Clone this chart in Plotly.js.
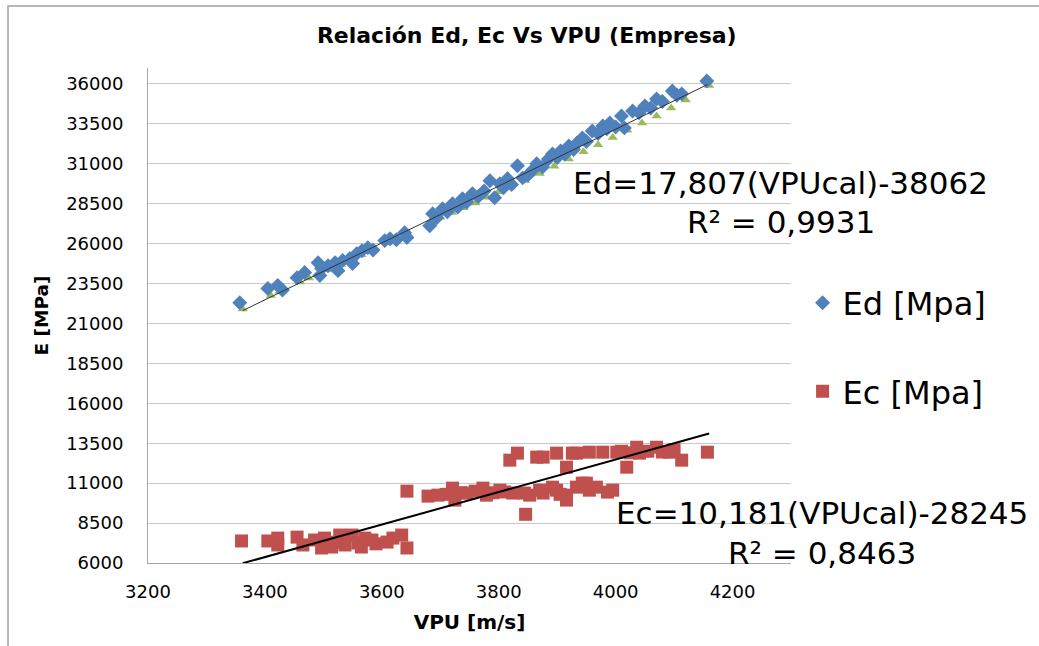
<!DOCTYPE html>
<html>
<head>
<meta charset="utf-8">
<script src="https://cdn.plot.ly/plotly-3.0.1.min.js"></script>
<style>html,body{margin:0;padding:0;background:#fff;}#chart{width:1039px;height:646px;}</style>
</head>
<body>
<div id="chart"></div>
<script>
// ---- Data ----
const edX = [3357,3405,3422,3430,3455,3468,3491,3494,3497,3508,3520,3525,3533,3545,3550,3557,3566,3576,3585,3605,3614,3625,3639,3643,3682,3687,3694,3704,3712,3721,3730,3738,3745,3755,3765,3775,3785,3793,3802,3808,3815,3822,3832,3841,3850,3858,3865,3875,3885,3892,3900,3906,3913,3920,3928,3934,3943,3950,3960,3970,3978,3985,3990,4000,4010,4015,4029,4040,4050,4060,4070,4080,4097,4105,4113,4156];
const edY = [22300,23190,23380,23100,23870,24190,24810,24000,24440,24620,24810,24310,24940,25060,24750,25370,25560,25750,25600,26190,26310,26250,26690,26380,27120,27870,27620,28190,28000,28500,28300,28810,28600,29120,28950,29300,29940,28880,29750,29500,30060,29700,30880,30120,30300,30600,31000,30800,31300,31620,31400,31810,31600,32120,31900,32310,32620,32400,33060,32900,33370,33200,33560,33300,34000,33250,34310,34200,34620,34500,35060,34900,35560,35300,35380,36190];

const calX = [3362,3410,3425,3460,3475,3495,3510,3530,3550,3565,3580,3610,3645,3685,3700,3720,3740,3760,3780,3800,3820,3845,3870,3895,3920,3945,3970,3995,4020,4045,4070,4095,4120,4160];
const calY = [21900,22750,23000,23600,23850,24150,24380,24700,25050,25300,25550,26050,26550,27400,27650,27950,28250,28550,28900,29250,29550,29950,30400,30850,31300,31750,32200,32650,33100,33550,34000,34500,35000,35900];

const ecX = [3360,3405,3422,3422,3455,3465,3485,3497,3502,3514,3520,3528,3537,3549,3559,3565,3571,3583,3590,3609,3619,3634,3643,3643,3679,3696,3710,3721,3725,3735,3745,3760,3773,3779,3790,3802,3810,3819,3824,3832,3846,3844,3853,3865,3870,3876,3876,3892,3899,3899,3905,3916,3916,3916,3926,3933,3933,3943,3950,3955,3955,3967,3978,3986,3995,4002,4010,4019,4025,4036,4041,4055,4070,4080,4092,4100,4113,4157];
const ecY = [7380,7380,7560,7130,7620,7130,7440,6940,7560,7000,7300,7750,7130,7750,7250,7000,7560,7440,7200,7310,7560,7750,6940,10500,10190,10250,10300,10690,9940,10400,10380,10500,10690,10250,10400,10560,10450,12440,10380,12880,9050,10380,10250,12630,10560,12630,10380,10750,12880,10560,10300,12000,10250,9940,12880,12880,10750,11000,11000,12940,10560,10750,12940,10440,10560,12940,13000,12000,12900,13250,12880,13000,13250,12950,12940,13100,12440,12940];

const edTrendX = [3362, 4157];
const edTrendY = [21805, 35962];
const ecTrendX = [3362, 4160];
const ecTrendY = [5985, 14108];

const xTicks = [3200,3400,3600,3800,4000,4200];
const yTicks = [6000,8500,11000,13500,16000,18500,21000,23500,26000,28500,31000,33500,36000];

const titleText = 'Relación Ed, Ec Vs VPU (Empresa)';
const edName = 'Ed [Mpa]';
const ecName = 'Ec [Mpa]';
const edEq = 'Ed=17,807(VPUcal)-38062';
const edR2 = 'R² = 0,9931';
const ecEq = 'Ec=10,181(VPUcal)-28245';
const ecR2 = 'R² = 0,8463';

const FONT = 'DejaVu Sans, sans-serif';

const traces = [
  {x: calX, y: calY, type: 'scatter', mode: 'markers', showlegend: false, hoverinfo: 'skip',
   marker: {symbol: 'triangle-up', size: 9, color: '#9BBB59'}},
  {x: edX, y: edY, type: 'scatter', mode: 'markers', name: edName, legendgroup: 'a',
   marker: {symbol: 'diamond', size: 11.5, color: '#4F81BD'}},
  {x: edTrendX, y: edTrendY, type: 'scatter', mode: 'lines', showlegend: false,
   line: {color: '#333333', width: 1}},
  {x: ecX, y: ecY, type: 'scatter', mode: 'markers', name: ecName, legendgroup: 'b',
   marker: {symbol: 'square', size: 13, color: '#C0504D'}},
  {x: ecTrendX, y: ecTrendY, type: 'scatter', mode: 'lines', showlegend: false,
   line: {color: '#000000', width: 2}}
];

const layout = {
  width: 1039, height: 646,
  margin: {l: 148, r: 248, t: 68, b: 83},
  paper_bgcolor: '#ffffff', plot_bgcolor: '#ffffff',
  font: {family: FONT, color: '#000'},
  title: {text: '<b>' + titleText + '</b>', x: 0.507, xanchor: 'center', y: 0.946, yanchor: 'middle',
          font: {family: FONT, size: 22, color: '#000'}},
  xaxis: {range: [3200, 4300], tickvals: xTicks, ticktext: xTicks.map(String),
          showgrid: false, zeroline: false, showline: true, linecolor: '#a6a6a6', linewidth: 1,
          ticks: '', ticklabelstandoff: 12, tickfont: {family: FONT, size: 18, color: '#000'},
          title: {text: '<b>VPU [m/s]</b>', font: {family: FONT, size: 20, color: '#000'}, standoff: 14}},
  yaxis: {range: [6000, 37000], tickvals: yTicks, ticktext: yTicks.map(String),
          showgrid: true, gridcolor: '#c8c8c8', gridwidth: 1, zeroline: false,
          showline: true, linecolor: '#a6a6a6', linewidth: 1, ticks: '', ticklabelstandoff: 20,
          tickfont: {family: FONT, size: 18, color: '#000'},
          title: {text: '<b>E [MPa]</b>', font: {family: FONT, size: 18.5, color: '#000'}, standoff: 12}},
  legend: {x: 1.018, xanchor: 'left', y: 0.581, yanchor: 'top', traceorder: 'grouped',
           tracegroupgap: 44, font: {family: FONT, size: 32, color: '#000'}, bgcolor: 'rgba(0,0,0,0)'},
  annotations: [
    {text: edEq, xref: 'paper', yref: 'y', x: 0.9844, y: 29812, showarrow: false, xanchor: 'center', yanchor: 'middle',
     font: {family: FONT, size: 31, color: '#000'}},
    {text: edR2, xref: 'paper', yref: 'y', x: 0.9844, y: 27375, showarrow: false, xanchor: 'center', yanchor: 'middle',
     font: {family: FONT, size: 31, color: '#000'}},
    {text: ecEq, xref: 'paper', yref: 'y', x: 1.0482, y: 9125, showarrow: false, xanchor: 'center', yanchor: 'middle',
     font: {family: FONT, size: 31, color: '#000'}},
    {text: ecR2, xref: 'paper', yref: 'y', x: 1.0482, y: 6625, showarrow: false, xanchor: 'center', yanchor: 'middle',
     font: {family: FONT, size: 31, color: '#000'}}
  ],
  shapes: [
    {type: 'path', xref: 'paper', yref: 'paper', path: 'M -0.2177,-0.2 L -0.2177,1.1253 L 1.5,1.1253',
     line: {color: '#a0a0a0', width: 1.5}}
  ]
};

Plotly.newPlot('chart', traces, layout, {displayModeBar: false, staticPlot: true});
</script>
</body>
</html>
